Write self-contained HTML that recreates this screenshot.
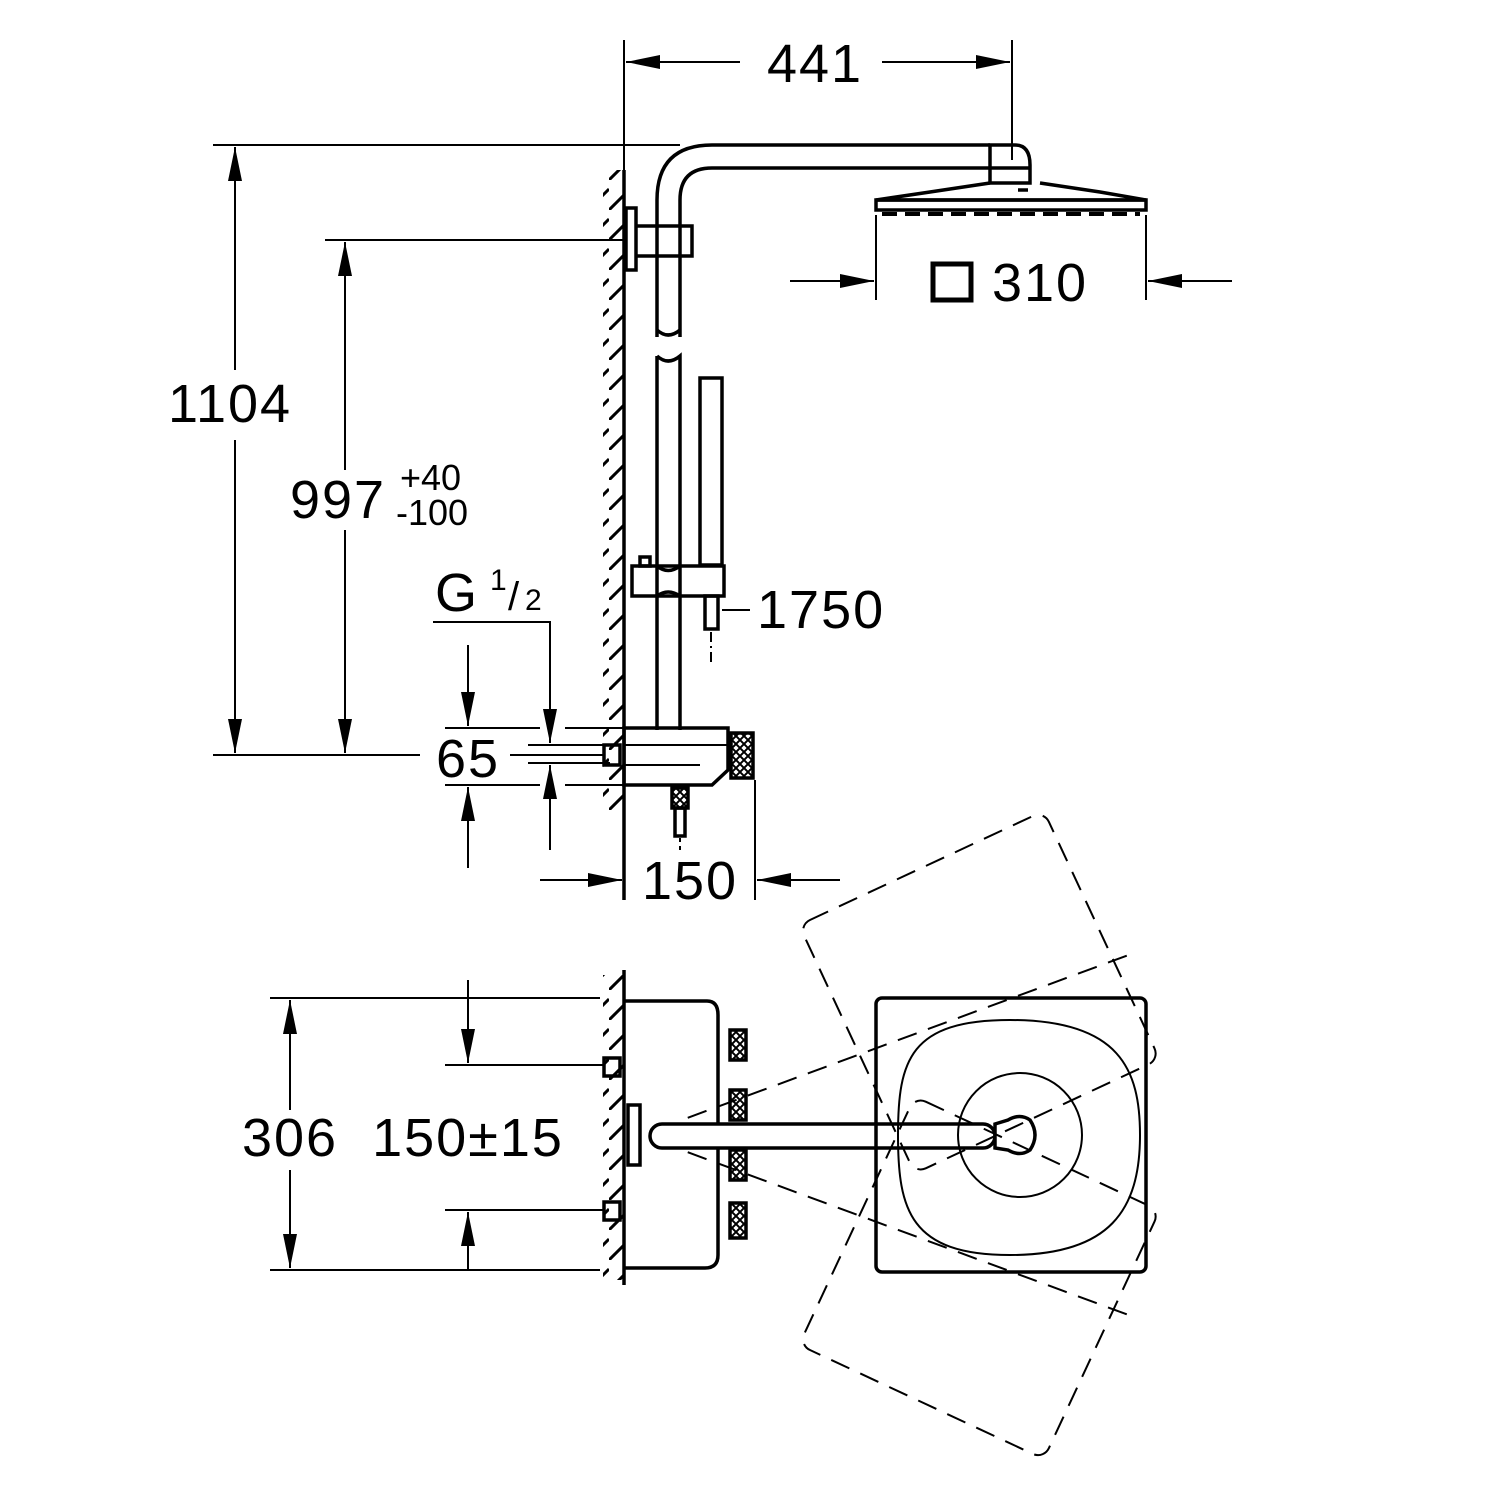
<!DOCTYPE html>
<html><head><style>body{margin:0;background:#fff}svg{display:block}text{font-family:"Liberation Sans",sans-serif;fill:#000}</style></head><body>
<svg width="1500" height="1500" viewBox="0 0 1500 1500" xmlns="http://www.w3.org/2000/svg">
<defs>
<marker id="a" viewBox="0 0 34 14" refX="34" refY="7" markerWidth="34" markerHeight="14" markerUnits="userSpaceOnUse" orient="auto"><path d="M0,0L34,7L0,14z" fill="#000"/></marker>
<pattern id="h" width="21" height="30" patternUnits="userSpaceOnUse"><path d="M0,30L21,9" stroke="#000" stroke-width="3"/></pattern>
<pattern id="x" width="8" height="8" patternUnits="userSpaceOnUse"><path d="M0,0L8,8M8,0L0,8" stroke="#000" stroke-width="2"/></pattern>
</defs>
<g fill="none" stroke="#000" stroke-width="2">
<!-- 441 -->
<line x1="624" y1="40" x2="624" y2="170"/><line x1="1012" y1="40" x2="1012" y2="160"/>
<line x1="740" y1="62" x2="626" y2="62" marker-end="url(#a)"/><line x1="882" y1="62" x2="1010" y2="62" marker-end="url(#a)"/>
<!-- 1104 -->
<line x1="213" y1="145" x2="680" y2="145"/>
<line x1="235" y1="370" x2="235" y2="147" marker-end="url(#a)"/><line x1="235" y1="440" x2="235" y2="753" marker-end="url(#a)"/>
<line x1="213" y1="755" x2="420" y2="755"/>
<!-- 997 -->
<line x1="325" y1="240" x2="624" y2="240"/>
<line x1="345" y1="470" x2="345" y2="242" marker-end="url(#a)"/><line x1="345" y1="530" x2="345" y2="753" marker-end="url(#a)"/>
<!-- wall top -->
<rect x="603" y="170" width="21" height="640" fill="url(#h)" stroke="none"/>
<line x1="624" y1="170" x2="624" y2="900" stroke-width="3.5"/>
<!-- pipe -->
<g stroke-width="3.5">
<path d="M657,337V200Q657,145 712,145H990"/>
<path d="M680,337V200Q680,168 712,168H990"/>
<path d="M657,330Q668,340 680,330"/>
<path d="M990,145H1015Q1030,145 1030,165V183H990Z"/>
<path d="M990,168H1030"/>
<path d="M990,183L930,192L876,200H1146L1100,192L1040,183"/>
<rect x="876" y="200" width="270" height="10"/>
<path d="M882,214H1140" stroke-dasharray="15 8" stroke-width="4"/>
<line x1="1018" y1="190" x2="1028" y2="190"/>
<rect x="626" y="208" width="10" height="62"/>
<path d="M636,226H692V256H636"/>
<path d="M657,356Q668,366 680,356V730M657,356V730"/>
<rect x="700" y="378" width="22" height="187"/>
<rect x="632" y="566" width="92" height="30"/>
<path d="M657,566Q668,575 680,566M657,596Q668,588 680,596"/>
<rect x="640" y="557" width="10" height="9"/>
<rect x="705" y="596" width="13" height="33"/>
</g>
<line x1="711" y1="632" x2="711" y2="665" stroke-dasharray="10 4 2 4"/>
<line x1="722" y1="610" x2="750" y2="610"/>
<!-- 310 -->
<line x1="876" y1="215" x2="876" y2="300"/><line x1="1146" y1="215" x2="1146" y2="300"/>
<line x1="790" y1="281" x2="874" y2="281" marker-end="url(#a)"/><line x1="1232" y1="281" x2="1148" y2="281" marker-end="url(#a)"/>
<rect x="933" y="264" width="38" height="36" stroke-width="5"/>
<!-- thermostat -->
<g stroke-width="3.5">
<path d="M624,728H728V770L712,785H624Z"/>
<line x1="624" y1="745" x2="728" y2="745" stroke-width="2"/>
<line x1="624" y1="765" x2="700" y2="765" stroke-width="2"/>
<rect x="604" y="745" width="16" height="20"/>
<rect x="731" y="733" width="22" height="45" fill="url(#x)"/>
<rect x="672" y="788" width="16" height="20" fill="url(#x)"/>
<rect x="675" y="808" width="10" height="28"/>
</g>
<line x1="680" y1="838" x2="680" y2="850" stroke-dasharray="4 4"/>
<line x1="755" y1="780" x2="755" y2="900"/>
<line x1="540" y1="880" x2="622" y2="880" marker-end="url(#a)"/><line x1="840" y1="880" x2="757" y2="880" marker-end="url(#a)"/>
<!-- 65 & G -->
<line x1="445" y1="728" x2="540" y2="728"/><line x1="565" y1="728" x2="624" y2="728"/>
<line x1="445" y1="785" x2="540" y2="785"/><line x1="565" y1="785" x2="624" y2="785"/>
<line x1="528" y1="745" x2="610" y2="745"/><line x1="528" y1="763" x2="610" y2="763"/>
<line x1="510" y1="755" x2="604" y2="755"/>
<line x1="468" y1="645" x2="468" y2="726" marker-end="url(#a)"/><line x1="468" y1="868" x2="468" y2="787" marker-end="url(#a)"/>
<path d="M433,622H550V743" marker-end="url(#a)"/><line x1="550" y1="850" x2="550" y2="765" marker-end="url(#a)"/>
<!-- bottom view -->
<rect x="603" y="975" width="21" height="305" fill="url(#h)" stroke="none"/>
<line x1="624" y1="970" x2="624" y2="1285" stroke-width="3.5"/>
<line x1="270" y1="998" x2="600" y2="998"/><line x1="270" y1="1270" x2="600" y2="1270"/>
<line x1="290" y1="1110" x2="290" y2="1000" marker-end="url(#a)"/><line x1="290" y1="1170" x2="290" y2="1268" marker-end="url(#a)"/>
<line x1="445" y1="1065" x2="605" y2="1065"/><line x1="445" y1="1210" x2="605" y2="1210"/>
<line x1="468" y1="980" x2="468" y2="1063" marker-end="url(#a)"/><line x1="468" y1="1270" x2="468" y2="1212" marker-end="url(#a)"/>
<g stroke-width="3.5">
<path d="M624,1001H707Q718,1001 718,1015V1255Q718,1268 705,1268H624"/>
<rect x="604" y="1058" width="16" height="18"/><rect x="604" y="1202" width="16" height="18"/>
<rect x="730" y="1030" width="16" height="30" fill="url(#x)"/><rect x="730" y="1090" width="16" height="30" fill="url(#x)"/><rect x="730" y="1150" width="16" height="30" fill="url(#x)"/><rect x="730" y="1203" width="16" height="35" fill="url(#x)"/>
<rect x="628" y="1105" width="12" height="60"/>
<rect x="650" y="1124" width="345" height="24" rx="12" fill="#fff"/>
<rect x="876" y="998" width="270" height="274" rx="6"/>
<path d="M1010,1020C1120,1020 1140,1070 1140,1135C1140,1210 1110,1255 1010,1255C910,1255 898,1210 898,1135C898,1060 910,1020 1010,1020Z" stroke-width="2"/>
<circle cx="1020" cy="1135" r="62" stroke-width="2"/>
<path d="M995,1124L1008,1120Q1020,1113 1030,1120Q1040,1135 1030,1150Q1020,1157 1008,1150L995,1148Z" fill="#fff"/>
</g>
<g stroke-dasharray="20 12" stroke-width="2">
<rect x="876" y="998" width="270" height="274" rx="12" transform="rotate(-25 673 1135)"/>
<rect x="876" y="998" width="270" height="274" rx="12" transform="rotate(25 673 1135)"/>
<line x1="690" y1="1120" x2="1150" y2="1020" transform="rotate(-8 673 1135)"/>
<line x1="690" y1="1150" x2="1150" y2="1250" transform="rotate(8 673 1135)"/>
</g>
</g>
<g font-size="54" letter-spacing="2">
<text x="815" y="82" text-anchor="middle">441</text>
<text x="230" y="422" text-anchor="middle">1104</text>
<text x="338" y="518" text-anchor="middle">997</text>
<text x="1040" y="301" text-anchor="middle">310</text>
<text x="757" y="628">1750</text>
<text x="690" y="899" text-anchor="middle">150</text>
<text x="468" y="777" text-anchor="middle">65</text>
<text x="435" y="611">G</text>
<text x="290" y="1156" text-anchor="middle">306</text>
<text x="468" y="1156" text-anchor="middle">150±15</text>
</g>
<text x="400" y="490" font-size="36">+40</text>
<text x="396" y="525" font-size="36">-100</text>
<text x="490" y="590" font-size="30">1</text>
<text x="508" y="610" font-size="40">/</text>
<text x="525" y="610" font-size="30">2</text>
</svg>
</body></html>
